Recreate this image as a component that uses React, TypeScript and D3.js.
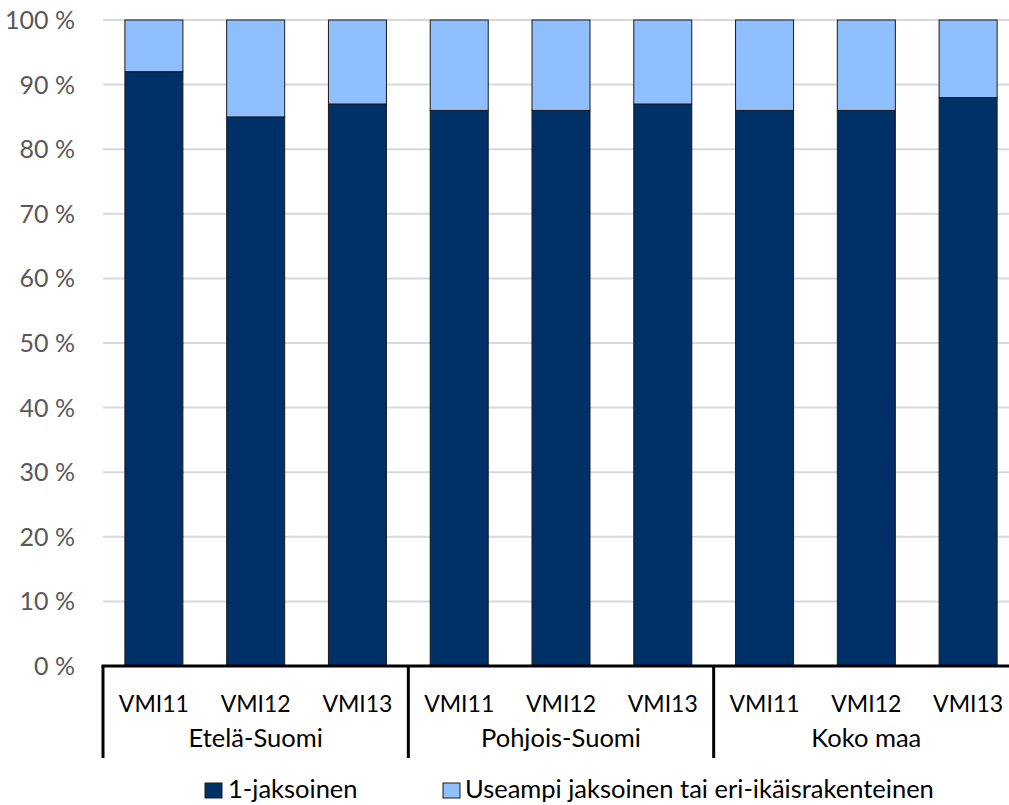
import React from "react";
import * as d3 from "d3";

const groups = ["Etelä-Suomi", "Pohjois-Suomi", "Koko maa"];
const inventories = ["VMI11", "VMI12", "VMI13"];
const oneStorey = [92, 85, 87, 86, 86, 87, 86, 86, 88];
const multiStorey = [8, 15, 13, 14, 14, 13, 14, 14, 12];
const seriesNames = ["1-jaksoinen", "Useampi jaksoinen tai eri-ikäisrakenteinen"];
const yTicks = [0, 10, 20, 30, 40, 50, 60, 70, 80, 90, 100];

const colors = ["#003068", "#8fbfff"];
const FONT = "Lato, 'Open Sans', sans-serif";

export default function App() {
  const W = 1009, H = 805;
  const left = 103, right = 1019, top = 20, bottom = 666;
  const keys = groups.flatMap((g) => inventories.map((v) => g + "|" + v));
  const x = d3.scaleBand<string>().domain(keys).range([left, right]).paddingInner(0.43).paddingOuter(0.215);
  const y = d3.scaleLinear().domain([0, 100]).range([bottom, top]);
  const stack = d3.stack<any>().keys(["a", "b"]);
  const rows = keys.map((k, i) => ({ k, a: oneStorey[i], b: multiStorey[i] }));
  const stacked = stack(rows);
  const groupW = (right - left) / groups.length;

  return (
    <svg width={W} height={H} style={{ position: "absolute", left: 0, top: 0 }} fontFamily={FONT}>
      <rect width={W} height={H} fill="#fff" />
      {yTicks.map((t) => (
        <g key={t}>
          {t > 0 && <line x1={left} x2={W} y1={y(t)} y2={y(t)} stroke="#d9d9d9" strokeWidth={2} />}
          <text x={75} y={y(t) + 9} textAnchor="end" fontSize={25} fill="#595959">{t} %</text>
        </g>
      ))}
      {stacked.map((s, si) => (
        <g key={si}>
          {s.map((d, i) => (
            <rect key={i} x={x(keys[i])!} width={x.bandwidth()} y={y(d[1])} height={y(d[0]) - y(d[1])}
              fill={colors[si]} stroke="#1a1a1a" strokeWidth={1} />
          ))}
        </g>
      ))}
      <line x1={left - 1.5} x2={W} y1={bottom} y2={bottom} stroke="#000" strokeWidth={3} />
      {[0, 1, 2].map((gi) => (
        <line key={gi} x1={left + gi * groupW} x2={left + gi * groupW} y1={bottom} y2={758} stroke="#000" strokeWidth={3} />
      ))}
      {keys.map((k, i) => (
        <text key={k} x={x(k)! + x.bandwidth() / 2} y={712} textAnchor="middle" fontSize={23} fill="#000">
          {inventories[i % 3]}
        </text>
      ))}
      {groups.map((g, gi) => (
        <text key={g} x={left + gi * groupW + groupW / 2} y={747} textAnchor="middle" fontSize={25.5} fill="#000">{g}</text>
      ))}
      <g>
        <rect x={205} y={783} width={17} height={15} fill={colors[0]} stroke="#1a1a1a" strokeWidth={1} />
        <text x={228} y={798} fontSize={25.5} fill="#000">{seriesNames[0]}</text>
        <rect x={443} y={783} width={17} height={15} fill={colors[1]} stroke="#1a1a1a" strokeWidth={1} />
        <text x={465} y={798} fontSize={25.5} fill="#000">{seriesNames[1]}</text>
      </g>
    </svg>
  );
}
